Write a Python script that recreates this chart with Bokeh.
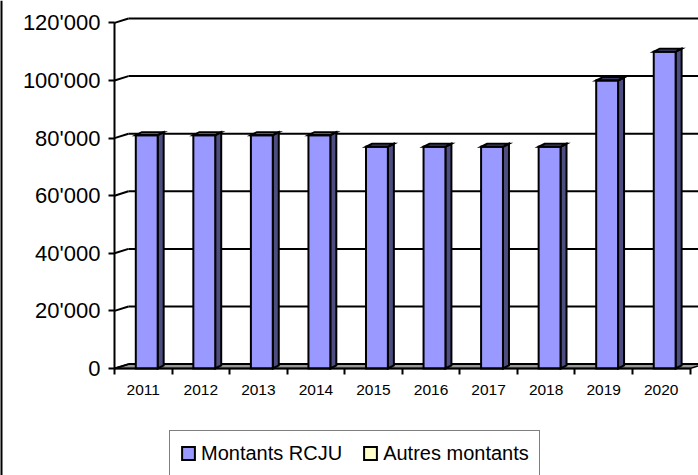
from bokeh.plotting import figure
from bokeh.models import Range1d, LinearAxis, FixedTicker, Legend, LegendItem, ColumnDataSource, Span
from bokeh.embed import file_html
from bokeh.resources import INLINE

# ---- data ----
years = ["2011", "2012", "2013", "2014", "2015", "2016", "2017", "2018", "2019", "2020"]
montants_rcju = [81000, 81000, 81000, 81000, 77000, 77000, 77000, 77000, 100000, 110000]
autres_montants = [0, 0, 0, 0, 0, 0, 0, 0, 0, 0]
y_ticks = [0, 20000, 40000, 60000, 80000, 100000, 120000]
y_tick_labels = ["0", "20'000", "40'000", "60'000", "80'000", "100'000", "120'000"]

# ---- layout (pixels) ----
W, H = 698, 475
X0, Y0 = 114, 368          # pixel position of the axes origin
UX = 57.55                 # pixels per category
UY = 345.6 / 120000        # pixels per unit of value
n = len(years)

FONT = "Liberation Sans"
FRONT = "#9999ff"
SIDE = "#4d4d80"
TOP = "#7373bf"

x_rng = Range1d(-X0 / UX, (W - X0) / UX)
y_rng = Range1d(-(H - Y0) / UY, Y0 / UY)

p = figure(width=W, height=H, x_range=x_rng, y_range=y_rng,
           output_backend="svg", toolbar_location=None,
           min_border_left=0, min_border_right=0, min_border_top=0, min_border_bottom=0,
           x_axis_type=None, y_axis_type=None)
p.outline_line_color = None
p.background_fill_color = "white"
p.border_fill_color = "white"

# chart-area left border
p.add_layout(Span(location=x_rng.start, dimension="height", line_color="black", line_width=4))

# back wall depth (data units)
dxw = 14 / UX
dyw = 4.4 / UY

# floor
p.patch(x=[0, n, n + dxw, dxw], y=[0, 0, dyw, dyw], fill_color="#999999",
        line_color="black", line_width=1.5)

# back wall grid lines + diagonals from axis
gx0, gx1, gy0, gy1 = [], [], [], []
for v in y_ticks:
    gx0 += [0, dxw]
    gx1 += [dxw, x_rng.end + 1]
    gy0 += [v, v + dyw]
    gy1 += [v + dyw, v + dyw]
p.segment(x0=gx0, y0=gy0, x1=gx1, y1=gy1, line_color="black", line_width=2)

# bars (3D look)
bl, bw = 0.37, 0.38
dxb = 6 / UX
dyb = 3 / UY
side_xs, side_ys, top_xs, top_ys = [], [], [], []
xc = []
for i, v in enumerate(montants_rcju):
    xl = i + bl
    xr = xl + bw
    xc.append(xl + bw / 2)
    side_xs.append([xr, xr + dxb, xr + dxb, xr])
    side_ys.append([0, dyb, v + dyb, v])
    top_xs.append([xl, xr, xr + dxb, xl + dxb])
    top_ys.append([v, v, v + dyb, v + dyb])

p.patches(xs=side_xs, ys=side_ys, fill_color=SIDE, line_color="black", line_width=2, line_join="miter")
p.patches(xs=top_xs, ys=top_ys, fill_color=TOP, line_color="black", line_width=2, line_join="miter")

src = ColumnDataSource(dict(x=xc, rcju=montants_rcju,
                            top2=[a + b for a, b in zip(montants_rcju, autres_montants)]))
front = p.vbar(x="x", width=bw, bottom=0, top="rcju", source=src, fill_color=FRONT,
               line_color="black", line_width=2, line_join="miter")
autres = p.vbar(x="x", width=bw, bottom="rcju", top="top2", source=src, fill_color="#ffffcc",
                line_color="black", line_width=2, line_join="miter")

# y axis
yax = LinearAxis(ticker=FixedTicker(ticks=y_ticks),
                 major_label_overrides={t: l for t, l in zip(y_ticks, y_tick_labels)},
                 fixed_location=0)
yax.bounds = (0, 120000)
yax.axis_line_color = "black"
yax.axis_line_width = 2
yax.major_tick_out = 6
yax.major_tick_in = 0
yax.major_tick_line_width = 2
yax.minor_tick_line_color = None
yax.major_label_text_font = FONT
yax.major_label_text_font_size = "22px"
yax.major_label_text_color = "black"
yax.major_label_standoff = 8
p.add_layout(yax, "left")

# x axis: labels at category centres, ticks at category boundaries
centres = [i + 0.5 for i in range(n)]
bounds_t = [i for i in range(n + 1)]
xax = LinearAxis(ticker=FixedTicker(ticks=centres, minor_ticks=bounds_t),
                 major_label_overrides={c: y for c, y in zip(centres, years)},
                 fixed_location=0)
xax.bounds = (0, n)
xax.axis_line_color = "black"
xax.axis_line_width = 2
xax.major_tick_out = 0
xax.major_tick_in = 0
xax.major_tick_line_color = None
xax.minor_tick_out = 6
xax.minor_tick_in = 0
xax.minor_tick_line_color = "black"
xax.minor_tick_line_width = 2
xax.major_label_text_font = FONT
xax.major_label_text_font_size = "15.5px"
xax.major_label_text_color = "black"
xax.major_label_standoff = 10
p.add_layout(xax, "below")

# legend
legend = Legend(items=[LegendItem(label="Montants RCJU", renderers=[front]),
                       LegendItem(label="Autres montants", renderers=[autres])],
                location=(169, -1), orientation="horizontal",
                label_text_font=FONT, label_text_font_size="20px", label_text_color="black",
                glyph_width=16, glyph_height=16, label_height=24, label_standoff=5,
                spacing=20, padding=10, margin=0,
                border_line_color="black", border_line_width=1.5,
                background_fill_color="white", background_fill_alpha=1.0)
p.add_layout(legend)

open("out.html", "w").write(file_html(p, INLINE))
